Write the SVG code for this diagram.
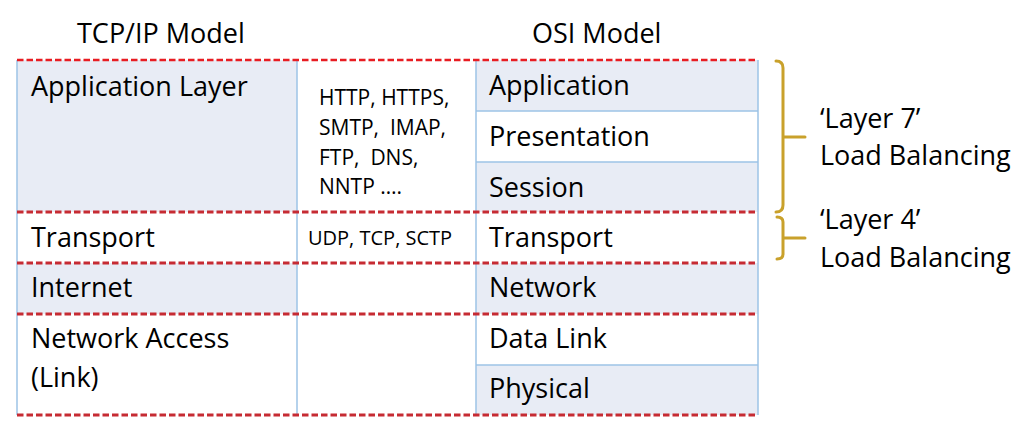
<svg xmlns="http://www.w3.org/2000/svg" width="1030" height="438" viewBox="0 0 1030 438">
<style>
text{font-family:"Open Sans","Liberation Sans",sans-serif;fill:#000;white-space:pre;}
.t{font-size:27px;}
.h{font-size:27px;}
.s{font-size:20px;}
.s2{font-size:21px;}
.fill{fill:#e8ecf5;}
.white{fill:#ffffff;}
.grid{stroke:#9dc3e6;stroke-width:1.5;fill:none;}
.dash{stroke:#c62b33;stroke-width:3;stroke-dasharray:6.5 3;fill:none;}
.dashtop{stroke:#e81c22;stroke-width:2.6;stroke-dasharray:6.5 3;fill:none;}
.brace{stroke:#c9a12b;stroke-width:3;fill:none;stroke-linecap:round;}
</style>
<rect width="1030" height="438" fill="#ffffff"/>
<g id="titles">
<text class="h" x="77" y="43">TCP/IP Model</text>
<text class="h" x="532" y="43">OSI Model</text>
</g>
<g id="tcp-application">
<rect class="fill" x="17" y="60" width="280" height="152"/>
<text class="t" x="31" y="96">Application Layer</text>
</g>
<g id="tcp-transport">
<rect class="white" x="17" y="212" width="280" height="51"/>
<text class="t" x="31" y="247">Transport</text>
</g>
<g id="tcp-internet">
<rect class="fill" x="17" y="263" width="280" height="51"/>
<text class="t" x="31" y="297">Internet</text>
</g>
<g id="tcp-network-access">
<rect class="white" x="17" y="314" width="280" height="101"/>
<text class="t" x="31" y="348">Network Access</text>
<text class="t" x="31" y="387">(Link)</text>
</g>
<g id="proto-application">
<rect class="white" x="297" y="60" width="179" height="152"/>
<text class="s2" x="319" y="105">HTTP, HTTPS,</text>
<text class="s2" x="319" y="135">SMTP,  IMAP,</text>
<text class="s2" x="319" y="165">FTP,  DNS,</text>
<text class="s2" x="319" y="194">NNTP ….</text>
</g>
<g id="proto-transport">
<rect class="white" x="297" y="212" width="179" height="51"/>
<text class="s" x="308" y="245">UDP, TCP, SCTP</text>
</g>
<g id="proto-lower">
<rect class="white" x="297" y="263" width="179" height="152"/>
</g>
<g id="osi-application">
<rect class="fill" x="476" y="60" width="282" height="51"/>
<text class="t" x="489" y="95">Application</text>
</g>
<g id="osi-presentation">
<rect class="white" x="476" y="111" width="282" height="51"/>
<text class="t" x="489" y="146">Presentation</text>
</g>
<g id="osi-session">
<rect class="fill" x="476" y="162" width="282" height="50"/>
<text class="t" x="489" y="197">Session</text>
</g>
<g id="osi-transport">
<rect class="white" x="476" y="212" width="282" height="51"/>
<text class="t" x="489" y="247">Transport</text>
</g>
<g id="osi-network">
<rect class="fill" x="476" y="263" width="282" height="51"/>
<text class="t" x="489" y="297">Network</text>
</g>
<g id="osi-datalink">
<rect class="white" x="476" y="314" width="282" height="51"/>
<text class="t" x="489" y="348">Data Link</text>
</g>
<g id="osi-physical">
<rect class="fill" x="476" y="365" width="282" height="50"/>
<text class="t" x="489" y="398">Physical</text>
</g>
<g id="grid">
<path class="grid" d="M17,60 V415 M297,60 V415 M476,60 V415 M758,60 V415 M476,111 H758 M476,162 H758 M476,365 H758"/>
<path class="dashtop" d="M17,60 H758"/>
<path class="dash" d="M17,212 H758 M17,263 H758 M17,314 H758 M17,415 H758"/>
</g>
<g id="connectors">
<path class="brace" d="M776,61 Q783,61 783,68 V205 Q783,212 776,212 M783,137 H805"/>
<path class="brace" d="M777,217 Q783,217 783,222 V254 Q783,259 777,259 M783,238 H805"/>
</g>
<g id="layer7-label">
<text class="t" x="820" y="128">‘Layer 7’</text>
<text class="t" x="820" y="165">Load Balancing</text>
</g>
<g id="layer4-label">
<text class="t" x="820" y="229">‘Layer 4’</text>
<text class="t" x="820" y="267">Load Balancing</text>
</g>
</svg>
